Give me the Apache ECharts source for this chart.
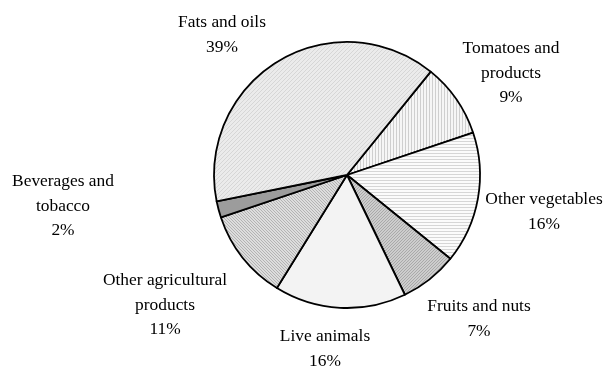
<!DOCTYPE html>
<html>
<head>
<meta charset="utf-8">
<script src="https://cdn.jsdelivr.net/npm/echarts@6/dist/echarts.min.js"></script>
<style>
  html, body { margin: 0; padding: 0; background: #ffffff; }
  #chart { width: 603px; height: 367px; }
</style>
</head>
<body>
<div id="chart"></div>
<script>
// Shares of agricultural exports, percent
const categories = [
  'Tomatoes and\nproducts',
  'Other vegetables',
  'Fruits and nuts',
  'Live animals',
  'Other agricultural\nproducts',
  'Beverages and\ntobacco',
  'Fats and oils'
];
const shares = [9, 16, 7, 16, 11, 2, 39];

// Label block centres (x, y) in pixels, one per slice
const labelCenters = [
  [511, 73],
  [544, 212],
  [479, 319],
  [325, 349],
  [165, 305],
  [63, 206],
  [222, 35]
];

// Small tiled fills in the manner of monochrome office chart patterns
function makePattern(w, h, bg, draw) {
  const c = document.createElement('canvas');
  c.width = w; c.height = h;
  const g = c.getContext('2d');
  g.fillStyle = bg;
  g.fillRect(0, 0, w, h);
  draw(g);
  return { image: c, repeat: 'repeat' };
}
function px(g, color, pts) {
  g.fillStyle = color;
  pts.forEach(p => g.fillRect(p[0], p[1], 1, 1));
}

const fills = [
  // tomatoes: fine vertical lines
  makePattern(3, 3, '#f6f6f6', g => { g.fillStyle = '#cfcfcf'; g.fillRect(0, 0, 1, 3); }),
  // other vegetables: fine horizontal lines
  makePattern(3, 3, '#fbfbfb', g => { g.fillStyle = '#d6d6d6'; g.fillRect(0, 0, 3, 1); }),
  // fruits and nuts: dense diagonal hatch on mid grey
  makePattern(3, 3, '#cdcdcd', g => px(g, '#a9a9a9', [[0, 2], [1, 1], [2, 0]])),
  // live animals: plain pale grey
  '#f3f3f3',
  // other agricultural products: diagonal hatch
  makePattern(3, 3, '#dddddd', g => px(g, '#b3b3b3', [[0, 0], [1, 1], [2, 2]])),
  // beverages and tobacco: solid darker grey
  '#9c9c9c',
  // fats and oils: faint diagonal texture
  makePattern(4, 4, '#ebebeb', g => px(g, '#d6d6d6', [[0, 3], [1, 2], [2, 1], [3, 0]]))
];

const chart = echarts.init(document.getElementById('chart'), null, { renderer: 'canvas' });

chart.setOption({
  backgroundColor: '#ffffff',
  animation: false,
  series: [{
    type: 'pie',
    center: [347, 175],
    radius: 133,
    startAngle: 51,
    clockwise: true,
    avoidLabelOverlap: false,
    data: categories.map((name, i) => ({
      name: name,
      value: shares[i],
      itemStyle: { color: fills[i] }
    })),
    itemStyle: {
      borderColor: '#000000',
      borderWidth: 1.8
    },
    label: {
      show: true,
      position: 'outside',
      formatter: p => p.name + '\n' + p.value + '%',
      fontFamily: '"Liberation Serif", "Times New Roman", serif',
      fontSize: 17.4,
      lineHeight: 24.7,
      color: '#000000',
      align: 'center'
    },
    labelLine: { show: false },
    labelLayout: function (params) {
      const c = labelCenters[params.dataIndex];
      return {
        x: c[0],
        y: c[1],
        align: 'center',
        verticalAlign: 'middle'
      };
    },
    emphasis: { disabled: true }
  }]
});
</script>
</body>
</html>
